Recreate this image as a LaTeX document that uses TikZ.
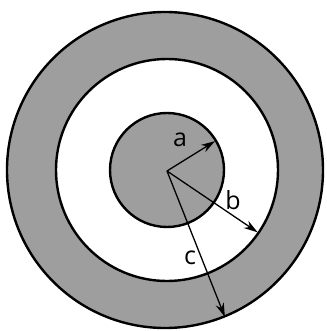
\documentclass[tikz,border=0pt]{standalone}
\usepackage{fontspec}
\setmainfont{Open Sans}
\usetikzlibrary{arrows.meta}

\definecolor{ringgray}{RGB}{158,158,158}

\begin{document}
\begin{tikzpicture}[
    x=1pt, y=1pt,
    ring/.style={draw=black, line width=2.4pt},
    radius/.style={line width=1.3pt, -{Stealth[length=14pt, width=8.5pt]}},
    lbl/.style={font=\fontsize{25}{25}\selectfont, inner sep=0pt}
]
    \useasboundingbox (-167,-161) rectangle (159,170);

    % --- rings, outside in
    \fill[ringgray] (-2,0) circle (158);
    \draw[ring, fill=white] (0,0) circle (111);
    \draw[ring, fill=ringgray] (0,0) circle (57);
    \draw[ring] (-2,0) circle (158);

    % --- centre and radius ends
    \coordinate (O) at (0,-1);
    \coordinate (A) at (31:56);
    \coordinate (B) at (-34.5:110);
    \coordinate (C) at (-68.5:158);

    \draw[radius] (O) -- (A);
    \draw[radius] (O) -- (B);
    \draw[radius] (O) -- (C);

    % --- labels
    \node[lbl] (la) at (13,30) {a};
    \node[lbl] (lb) at (66,-30) {b};
    \node[lbl] (lc) at (23,-88) {c};

\end{tikzpicture}
\end{document}
